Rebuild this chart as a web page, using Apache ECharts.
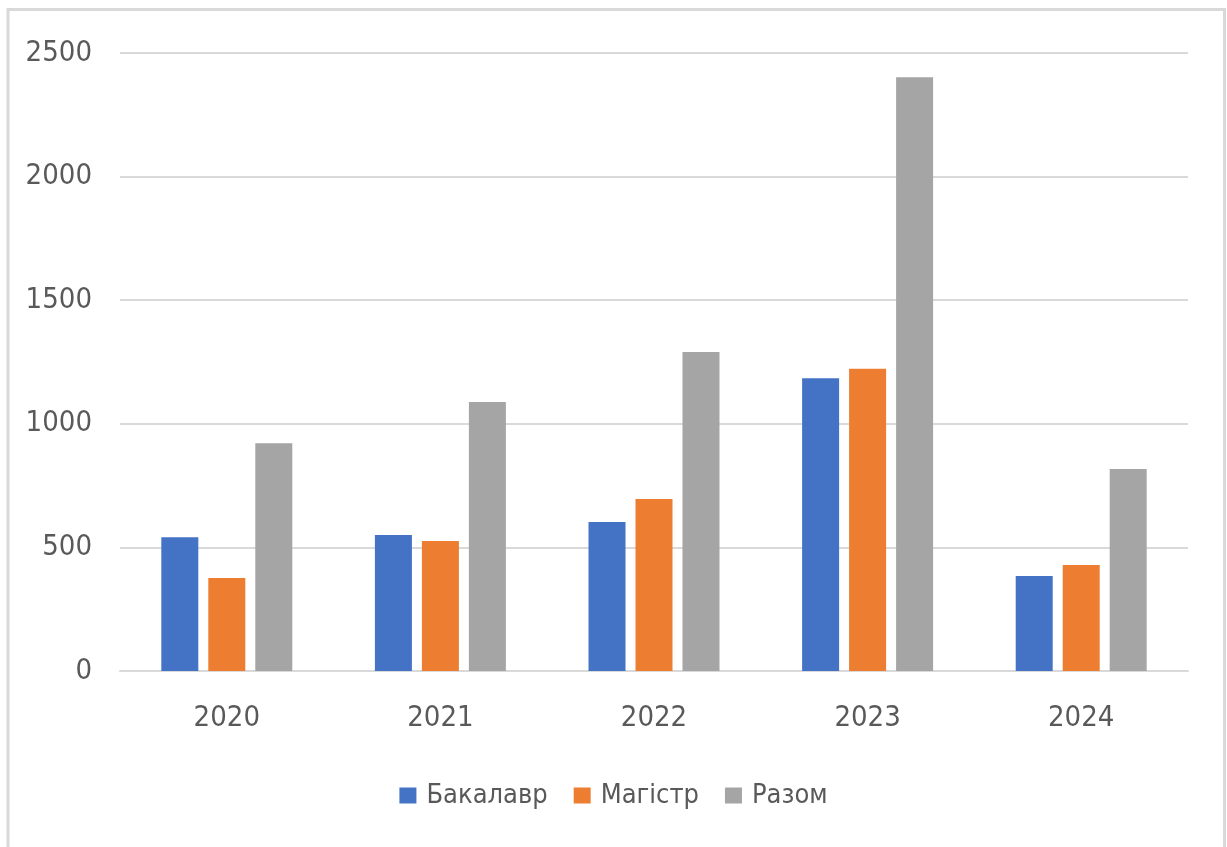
<!DOCTYPE html>
<html>
<head>
<meta charset="utf-8">
<script src="https://cdn.jsdelivr.net/npm/echarts@6/dist/echarts.min.js"></script>
<style>
html,body{margin:0;padding:0;background:#fff;}
#chart{width:1227px;height:847px;}
</style>
</head>
<body>
<div id="chart"></div>
<script>
const categories = ['2020', '2021', '2022', '2023', '2024'];
const seriesNames = ['Бакалавр', 'Магістр', 'Разом'];
const bachelor = [541, 550, 603, 1184, 384];
const master = [376, 526, 696, 1223, 429];
const total = [921, 1088, 1290, 2402, 817];
const colors = ['#4472C4', '#ED7D31', '#A5A5A5'];

const FONT = '"Liberation Sans Narrow", "DejaVu Sans Condensed", "Noto Sans", sans-serif';
const chart = echarts.init(document.getElementById('chart'));
const values = [bachelor, master, total];
chart.setOption({
  animation: false,
  backgroundColor: '#ffffff',
  textStyle: { fontFamily: FONT },
  graphic: [{
    type: 'rect',
    shape: { x: 8, y: 9.5, width: 1216.5, height: 880 },
    style: { fill: 'none', stroke: '#d9d9d9', lineWidth: 3 },
    silent: true
  }],
  grid: { left: 120, right: 39, top: 53, bottom: 176, containLabel: false },
  legend: {
    data: seriesNames,
    bottom: 33,
    left: 'center',
    itemWidth: 17,
    itemHeight: 16,
    itemGap: 26,
    icon: 'rect',
    textStyle: { color: '#595959', fontSize: 27, fontFamily: FONT, padding: [0, 0, 0, 5] }
  },
  xAxis: {
    type: 'category',
    data: categories,
    axisLine: { show: true, lineStyle: { color: '#d9d9d9', width: 2 } },
    axisTick: { show: false },
    axisLabel: { color: '#595959', fontSize: 29, fontFamily: FONT, margin: 33 }
  },
  yAxis: {
    type: 'value',
    min: 0,
    max: 2500,
    interval: 500,
    axisLine: { show: false },
    axisTick: { show: false },
    splitLine: { lineStyle: { color: '#d9d9d9', width: 2 } },
    axisLabel: { color: '#595959', fontSize: 29, fontFamily: FONT, margin: 28, formatter: v => String(v) }
  },
  series: seriesNames.map((name, i) => ({
    name: name,
    type: 'bar',
    data: values[i],
    barWidth: 37,
    barGap: '27%',
    itemStyle: { color: colors[i] }
  }))
});
</script>
</body>
</html>
